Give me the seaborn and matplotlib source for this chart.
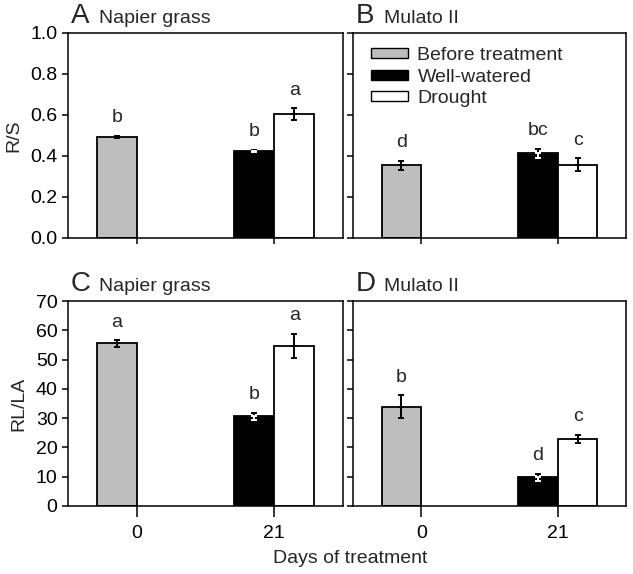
import matplotlib
matplotlib.use('Agg')
import pandas as pd
import matplotlib.pyplot as plt
from matplotlib.patches import Patch
import seaborn as sns

# ─── DATA ────────────────────────────────────────────────────────────────────
DAYS = ['0', '21']
TREATMENTS = ['Before treatment', 'Well-watered', 'Drought']
BAR_DAY = ['0', '21', '21']
BAR_SLOT = ['left', 'left', 'right']

RS_NAPIER = [0.494, 0.426, 0.603]
RS_NAPIER_SE = [0.004, 0.005, 0.029]
RS_NAPIER_LET = ['b', 'b', 'a']

RS_MULATO = [0.355, 0.413, 0.358]
RS_MULATO_SE = [0.023, 0.023, 0.030]
RS_MULATO_LET = ['d', 'bc', 'c']

RL_NAPIER = [55.5, 30.7, 54.7]
RL_NAPIER_SE = [1.1, 1.2, 4.2]
RL_NAPIER_LET = ['a', 'b', 'a']

RL_MULATO = [33.9, 9.8, 23.0]
RL_MULATO_SE = [3.9, 1.1, 1.4]
RL_MULATO_LET = ['b', 'd', 'c']

COLORS = {'Before treatment': '#bebebe', 'Well-watered': 'black', 'Drought': 'white'}

sns.set_style('ticks')
plt.rcParams['font.family'] = ['Liberation Sans', 'DejaVu Sans']
plt.rcParams.update({
    'axes.linewidth': 1.1, 'xtick.major.width': 1.1, 'ytick.major.width': 1.1,
    'xtick.major.size': 4, 'ytick.major.size': 4,
    'xtick.direction': 'out', 'ytick.direction': 'out',
    'xtick.color': 'black', 'ytick.color': 'black',
    'axes.edgecolor': 'black', 'font.size': 14,
})

FS_TICK, FS_LET = 14, 14
W, H = 633, 574
fig = plt.figure(figsize=(W / 100, H / 100), dpi=100)


def axes_px(left, top, right, bottom):
    return fig.add_axes([left / W, 1 - bottom / H, (right - left) / W, (bottom - top) / H])


def draw_panel(ax, vals, ses, letters, ylim, yticks, letter, name, show_y, show_x):
    df = pd.DataFrame({'day': BAR_DAY, 'slot': BAR_SLOT, 'treatment': TREATMENTS,
                       'value': vals, 'se': ses, 'letter': letters})
    sns.barplot(data=df, x='day', y='value', hue='slot', order=DAYS,
                hue_order=['left', 'right'], width=0.58, dodge=True,
                errorbar=None, legend=False, edgecolor='black', linewidth=1.3,
                ax=ax)
    for cont, slot in zip(list(ax.containers)[:2], ['left', 'right']):
        rows = df[df['slot'] == slot]
        for bar, (_, r) in zip(cont, rows.iterrows()):
            bar.set_facecolor(COLORS[r['treatment']])
            xc = bar.get_x() + bar.get_width() / 2
            ax.errorbar(xc, r['value'], yerr=[[0], [r['se']]], color='black',
                        capsize=2.5, elinewidth=1.4, capthick=1.4, zorder=5)
            low = 'white' if r['treatment'] == 'Well-watered' else 'black'
            ax.errorbar(xc, r['value'], yerr=[[r['se']], [0]], color=low,
                        capsize=2.5, elinewidth=1.4, capthick=1.4, zorder=5)
            ax.annotate(r['letter'], (xc, r['value'] + r['se']), xytext=(0, 7),
                        textcoords='offset points', ha='center', va='bottom',
                        fontsize=FS_LET)
    ax.set_ylim(*ylim)
    ax.set_yticks(yticks)
    ax.set_xlim(-0.5, 1.5)
    ax.set_xlabel('')
    ax.set_ylabel('')
    for s in ax.spines.values():
        s.set_visible(True)
        s.set_color('black')
    ax.tick_params(labelsize=FS_TICK, labelleft=show_y, labelbottom=show_x)
    if show_x:
        ax.tick_params(axis='x', length=8, pad=6)
    ax.annotate(letter, (0, 1), xycoords='axes fraction', xytext=(2, 7),
                textcoords='offset points', fontsize=20, ha='left', va='baseline')
    ax.annotate(name, (0, 1), xycoords='axes fraction', xytext=(22, 7),
                textcoords='offset points', fontsize=14, ha='left', va='baseline')


axA = axes_px(68, 33, 343, 238)
axB = axes_px(353, 33, 626, 238)
axC = axes_px(68, 301, 343, 506)
axD = axes_px(353, 301, 626, 506)

rs_ticks = [0.0, 0.2, 0.4, 0.6, 0.8, 1.0]
rl_ticks = [0, 10, 20, 30, 40, 50, 60, 70]

draw_panel(axA, RS_NAPIER, RS_NAPIER_SE, RS_NAPIER_LET, (0, 1), rs_ticks,
           'A', 'Napier grass', True, False)
draw_panel(axB, RS_MULATO, RS_MULATO_SE, RS_MULATO_LET, (0, 1), rs_ticks,
           'B', 'Mulato II', False, False)
draw_panel(axC, RL_NAPIER, RL_NAPIER_SE, RL_NAPIER_LET, (0, 70), rl_ticks,
           'C', 'Napier grass', True, True)
draw_panel(axD, RL_MULATO, RL_MULATO_SE, RL_MULATO_LET, (0, 70), rl_ticks,
           'D', 'Mulato II', False, True)

axA.set_yticklabels([f'{t:.1f}' for t in rs_ticks])
axA.set_ylabel('R/S', fontsize=14, labelpad=6)
axC.set_ylabel('RL/LA', fontsize=14, labelpad=6)

handles = [Patch(facecolor=COLORS[t], edgecolor='black', linewidth=1.0, label=t)
           for t in TREATMENTS]
axB.legend(handles=handles, loc='upper left', bbox_to_anchor=(0.065, 0.93),
           frameon=False, fontsize=14, handlelength=1.9, handleheight=0.42,
           handletextpad=0.5, labelspacing=0.22, borderpad=0, borderaxespad=0)

fig.text(0.553, 0.012, 'Days of treatment', ha='center', va='bottom', fontsize=14)

fig.savefig('out.png', dpi=100)
